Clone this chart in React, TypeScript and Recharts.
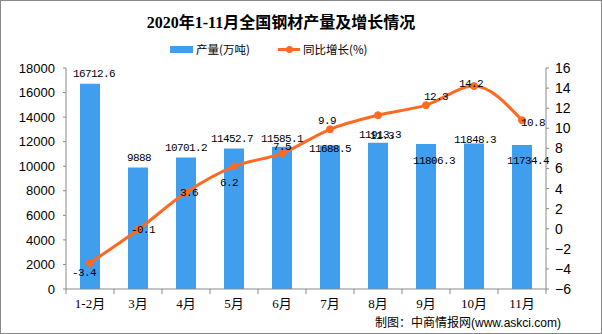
import React from 'react';
import { ComposedChart, Bar, Line, XAxis, YAxis, LabelList } from 'recharts';

// ---- data ----
const categories = ['1-2月', '3月', '4月', '5月', '6月', '7月', '8月', '9月', '10月', '11月'];
const production = [16712.6, 9888, 10701.2, 11452.7, 11585.1, 11688.5, 11913.3, 11806.3, 11848.3, 11734.4];
const growth = [-3.4, -0.1, 3.6, 6.2, 7.5, 9.9, 11.3, 12.3, 14.2, 10.8];
const leftTicks = [0, 2000, 4000, 6000, 8000, 10000, 12000, 14000, 16000, 18000];
const rightTicks = [-6, -4, -2, 0, 2, 4, 6, 8, 10, 12, 14, 16];

const chartData = categories.map((name, i) => ({ name, production: production[i], growth: growth[i] }));

// ---- layout / style constants ----
const W = 602;
const H = 334;
const PLOT_LEFT = 66;
const PLOT_RIGHT = 546;
const PLOT_TOP = 68;
const PLOT_BOTTOM = 289;
const BAND = (PLOT_RIGHT - PLOT_LEFT) / categories.length;
const BAR_COLOR = '#409EEF';
const LINE_COLOR = '#FF6A22';
const AXIS_COLOR = '#898989';
const LABEL_FONT = '"Liberation Mono", "DejaVu Sans Mono", monospace';

// label nudges (layout), indexed by category
const barLabelShift: [number, number][] = [[4, -10], [1, -10], [0, -10], [-2, -9], [0, -8], [0, 4], [2, -8], [8, 17], [1, -4], [6, 16]];
const lineLabelShift: [number, number][] = [[-6, 10], [5, 0], [3, 0], [-5, 17], [0, -6], [-3, -8], [4, 21], [10, -8], [-3, -2], [11, 3]];

function BarLabel(props: any) {
  const { x, y, width, value } = props;
  let idx = typeof props.index === 'number' ? props.index : production.indexOf(Number(value));
  if (idx < 0) idx = 0;
  const [dx, dy] = barLabelShift[idx] || [0, -10];
  return (
    <text x={Number(x) + Number(width) / 2 + dx} y={Number(y) + dy} textAnchor="middle" dominantBaseline="central"
      fontFamily={LABEL_FONT} fontSize={11} letterSpacing={-0.6} fill="#000">
      {String(value)}
    </text>
  );
}

function LineLabel(props: any) {
  const { x, y, value } = props;
  let idx = typeof props.index === 'number' ? props.index : growth.indexOf(Number(value));
  if (idx < 0) idx = 0;
  const [dx, dy] = lineLabelShift[idx] || [0, -10];
  return (
    <text x={Number(x) + dx} y={Number(y) + dy} textAnchor="middle" dominantBaseline="central"
      fontFamily={LABEL_FONT} fontSize={11} letterSpacing={-0.6} fill="#000">
      {String(value)}
    </text>
  );
}

function XTick(props: any) {
  const { x, y, payload } = props;
  let idx = typeof props.index === 'number' ? props.index : categories.indexOf(payload.value);
  const bx = Number(x) - BAND / 2;
  return (
    <g>
      <line x1={bx} x2={bx} y1={PLOT_BOTTOM} y2={PLOT_BOTTOM + 5} stroke={AXIS_COLOR} strokeWidth={1} />
      {idx === categories.length - 1 && (
        <line x1={Number(x) + BAND / 2} x2={Number(x) + BAND / 2} y1={PLOT_BOTTOM} y2={PLOT_BOTTOM + 5} stroke={AXIS_COLOR} strokeWidth={1} />
      )}
      <text x={x} y={y} dy="0.75em" textAnchor="middle" fontSize={13}
        fontFamily='"Liberation Serif", "Noto Sans CJK SC", serif' fill="#000">
        {payload.value}
      </text>
    </g>
  );
}

const minusFmt = (v: number) => (v < 0 ? '\u2212' + Math.abs(v) : String(v));

export default function App() {
  return (
    <div style={{ position: 'absolute', left: 0, top: 0, width: W, height: H, background: '#fff', overflow: 'hidden' }}>
      <ComposedChart
        width={W}
        height={H}
        data={chartData}
        margin={{ top: PLOT_TOP, right: W - PLOT_RIGHT - 40, bottom: H - PLOT_BOTTOM - 30, left: 0 }}
      >
        <XAxis
          dataKey="name"
          xAxisId="x"
          height={30}
          axisLine={{ stroke: AXIS_COLOR }}
          tickLine={false}
          tickSize={0}
          tickMargin={9}
          interval={0}
          tick={<XTick />}
        />
        <YAxis
          yAxisId="left"
          orientation="left"
          width={PLOT_LEFT}
          domain={[0, 18000]}
          ticks={leftTicks}
          interval={0}
          axisLine={{ stroke: AXIS_COLOR }}
          tickLine={{ stroke: AXIS_COLOR }}
          tickSize={3}
          tickMargin={8}
          tick={{ fill: '#000', fontSize: 13, fontFamily: '"Liberation Sans", Arial, sans-serif' }}
        />
        <YAxis
          yAxisId="right"
          orientation="right"
          width={40}
          domain={[-6, 16]}
          ticks={rightTicks}
          interval={0}
          axisLine={{ stroke: AXIS_COLOR }}
          tickLine={{ stroke: AXIS_COLOR }}
          tickSize={3}
          tickMargin={6}
          tickFormatter={minusFmt}
          tick={{ fill: '#000', fontSize: 14, fontFamily: '"Liberation Sans", Arial, sans-serif' }}
        />
        <Bar xAxisId="x" yAxisId="left" dataKey="production" fill={BAR_COLOR} barSize={20} isAnimationActive={false}>
          <LabelList dataKey="production" content={<BarLabel />} />
        </Bar>
        <Line
          xAxisId="x"
          yAxisId="right"
          type="monotone"
          dataKey="growth"
          stroke={LINE_COLOR}
          strokeWidth={3}
          dot={{ r: 3.5, fill: LINE_COLOR, stroke: LINE_COLOR, strokeWidth: 1 }}
          activeDot={false}
          isAnimationActive={false}
        >
          <LabelList dataKey="growth" content={<LineLabel />} />
        </Line>
      </ComposedChart>

      {/* title */}
      <div style={{ position: 'absolute', left: 0, top: 12, width: 562, textAlign: 'center', fontSize: 16, lineHeight: '22px',
        fontWeight: 'bold', fontFamily: '"Liberation Serif", "Noto Sans CJK SC", serif', color: '#000' }}>
        2020年1-11月全国钢材产量及增长情况
      </div>

      {/* legend */}
      <div style={{ position: 'absolute', left: 170, top: 46, width: 23, height: 7, background: BAR_COLOR }} />
      <div style={{ position: 'absolute', left: 196, top: 41, fontSize: 11.5, lineHeight: '16px', fontFamily: '"Noto Sans CJK SC", sans-serif', color: '#000', whiteSpace: 'nowrap' }}>
        产量(万吨)
      </div>
      <div style={{ position: 'absolute', left: 278, top: 48, width: 22, height: 3, background: LINE_COLOR }} />
      <div style={{ position: 'absolute', left: 285.5, top: 46, width: 7, height: 7, borderRadius: '50%', background: LINE_COLOR }} />
      <div style={{ position: 'absolute', left: 303, top: 41, fontSize: 11.5, lineHeight: '16px', fontFamily: '"Noto Sans CJK SC", sans-serif', color: '#000', whiteSpace: 'nowrap' }}>
        同比增长(%)
      </div>

      {/* footer */}
      <div style={{ position: 'absolute', left: 375, top: 314, fontSize: 12, lineHeight: '16px', color: '#000', whiteSpace: 'nowrap' }}>
        <span style={{ fontFamily: '"Noto Sans CJK SC", sans-serif' }}>制图：中商情报网</span>
        <span style={{ fontFamily: '"Liberation Sans", Arial, sans-serif' }}>(www.askci.com)</span>
      </div>

      {/* outer frame */}
      <div style={{ position: 'absolute', left: 0, top: 0, width: W, height: H, boxSizing: 'border-box', border: `1px solid ${AXIS_COLOR}`, pointerEvents: 'none' }} />
    </div>
  );
}
